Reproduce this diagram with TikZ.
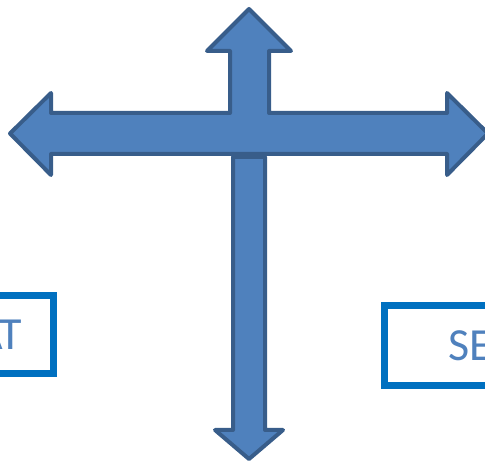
\documentclass[tikz,border=0pt]{standalone}
\usepackage{fontspec}
\setmainfont{Carlito}
\usetikzlibrary{positioning,calc}
\definecolor{arrowfill}{HTML}{4F81BD}
\definecolor{arrowline}{HTML}{385D8A}
\definecolor{boxline}{HTML}{0070C0}

\begin{document}
\begin{tikzpicture}[x=1pt,y=-1pt,
	arrowshape/.style={fill=arrowfill, draw=arrowline, line width=4pt, line join=round},
	choicebox/.style={draw=boxline, line width=7pt, text=arrowfill, outer sep=0pt, inner ysep=0pt, font=\fontsize{46}{50}\selectfont}]
		\useasboundingbox (0,0) rectangle (485,462);
		\clip (0,0) rectangle (485,462);

		% three way arrow: up, left, right
		\draw[arrowshape] (249,9) -- (291,51) -- (269,51) -- (269,113) -- (447,113) -- (447,93) -- (488,133.5) -- (447,175) -- (447,154) -- (51,154) -- (51,175) -- (10,133.5) -- (51,93) -- (51,113) -- (230,113) -- (230,51) -- (207,51) -- cycle;
		% down arrow
		\draw[arrowshape] (233,157) -- (265,157) -- (265,430) -- (283,430) -- (249,459) -- (215,430) -- (233,430) -- cycle;

		\node[choicebox, inner xsep=31.5pt, minimum height=78pt, anchor=east] (L) at (53.5,334.5) {AT};
		\node[choicebox, inner xsep=64pt, minimum height=80pt, anchor=west] (R) at (384,346) {SE};
	\end{tikzpicture}
\end{document}
